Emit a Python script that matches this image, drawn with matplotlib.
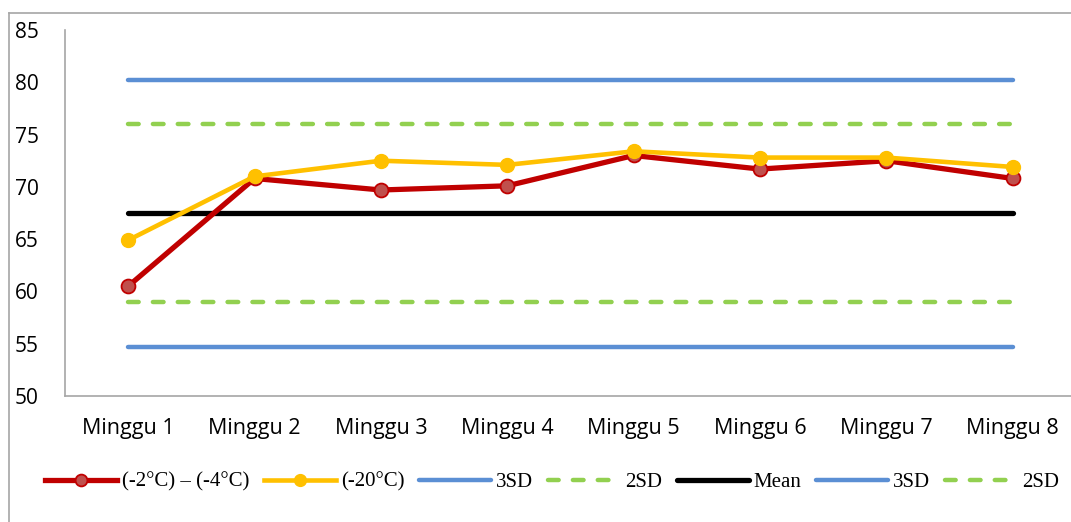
import matplotlib.pyplot as plt
from matplotlib.lines import Line2D

weeks = ['Minggu 1', 'Minggu 2', 'Minggu 3', 'Minggu 4',
         'Minggu 5', 'Minggu 6', 'Minggu 7', 'Minggu 8']
red_vals = [60.5, 70.8, 69.7, 70.1, 73.0, 71.7, 72.5, 70.8]
yellow_vals = [64.9, 71.0, 72.5, 72.1, 73.4, 72.8, 72.8, 71.9]
sd3_upper = 80.2
sd2_upper = 76.0
mean_val = 67.5
sd2_lower = 59.0
sd3_lower = 54.7
yticks = [50, 55, 60, 65, 70, 75, 80, 85]

W, H = 1071, 522
fig = plt.figure(figsize=(W / 100, H / 100), dpi=100)
ax = fig.add_axes([65 / W, (H - 396) / H, (1076 - 65) / W, (396 - 30) / H])

x = list(range(len(weeks)))
n = len(weeks)
green_dash = (0, (2.4, 3.2))

ax.plot(x, [sd3_upper] * n, color='#5B8FD4', lw=3.2, label='3SD', solid_capstyle='round')
ax.plot(x, [sd2_upper] * n, color='#92D050', lw=3.2, ls=green_dash,
        dash_capstyle='round', label='2SD')
ax.plot(x, [mean_val] * n, color='black', lw=3.8, label='Mean', solid_capstyle='round')
ax.plot(x, [sd3_lower] * n, color='#5B8FD4', lw=3.2, label='3SD', solid_capstyle='round')
ax.plot(x, [sd2_lower] * n, color='#92D050', lw=3.2, ls=green_dash,
        dash_capstyle='round', label='2SD')
ax.plot(x, red_vals, color='#C00000', lw=3.8, marker='o', ms=10,
        mfc='#C0504D', mec='#C00000', mew=1.3, label='(-2°C) – (-4°C)')
ax.plot(x, yellow_vals, color='#FFC000', lw=3.3, marker='o', ms=10,
        mfc='#FFC000', mec='#FFC000', label='(-20°C)')

ax.set_xlim(-0.5, 7.5)
ax.set_ylim(50, 85)
ax.set_yticks(yticks)
ax.set_xticks(x)
ax.set_xticklabels(weeks)
for s in ['top', 'right']:
    ax.spines[s].set_visible(False)
for s in ['left', 'bottom']:
    ax.spines[s].set_color('#A6A6A6')
    ax.spines[s].set_linewidth(1.2)
ax.tick_params(axis='y', length=0, labelsize=15, pad=19)
ax.tick_params(axis='x', length=0, labelsize=15.5, pad=16)
for lab in ax.get_xticklabels() + ax.get_yticklabels():
    lab.set_fontfamily('Open Sans')

# legend order as in the reference
handles, labels = ax.get_legend_handles_labels()
order = [5, 6, 0, 1, 2, 3, 4]
fig.legend([handles[i] for i in order], [labels[i] for i in order],
           loc='center', bbox_to_anchor=(552 / W, (H - 482) / H), ncol=7,
           frameon=False, prop={'family': 'Liberation Serif', 'size': 15},
           handlelength=3.45, handletextpad=0.25, columnspacing=0.7,
           markerscale=0.85)

# outer chart border
fig.add_artist(Line2D([9 / W, 9 / W], [0, (H - 13) / H], color='#A6A6A6', lw=1.2))
fig.add_artist(Line2D([9 / W, 1], [(H - 13) / H, (H - 13) / H], color='#A6A6A6', lw=1.2))

fig.savefig('out.png', dpi=100)
